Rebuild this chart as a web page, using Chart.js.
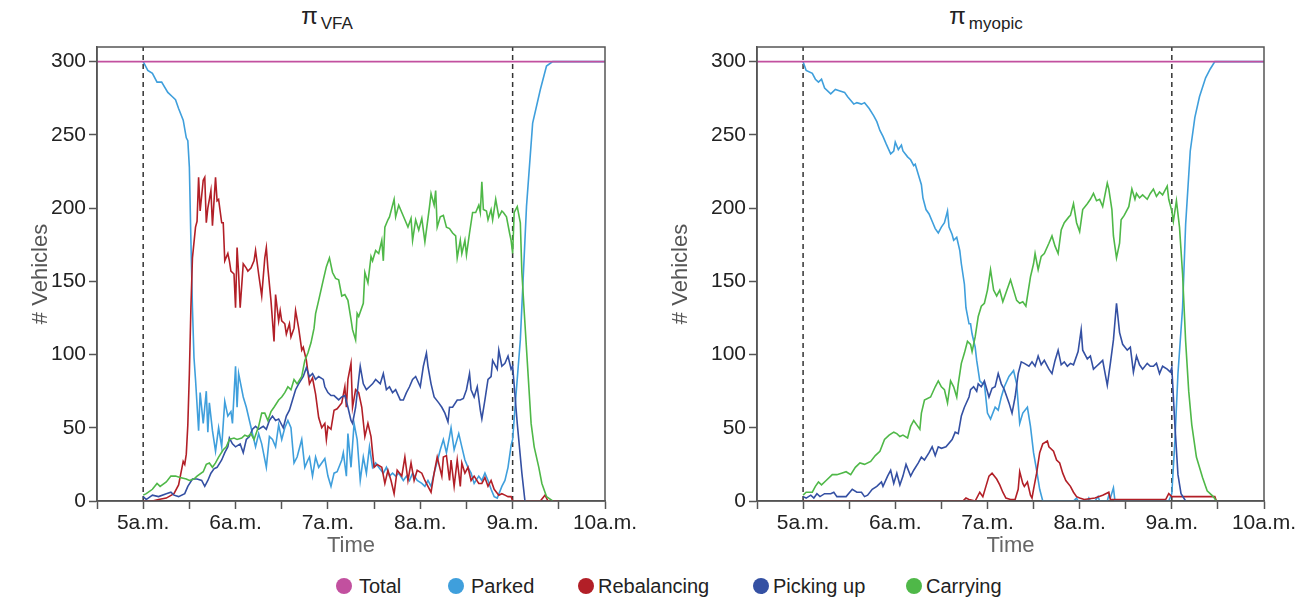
<!DOCTYPE html>
<html lang="en">
<head>
<meta charset="UTF-8">
<title>Fleet state: VFA vs myopic</title>
<script src="https://cdn.jsdelivr.net/npm/chart.js"></script>
<style>
  body { margin: 0; background: #fff; width: 1300px; height: 601px; overflow: hidden; position: relative;
         font-family: "Liberation Sans", Arial, sans-serif; }
  canvas { position: absolute; top: 0; }
  .ttl { position: absolute; top: 2px; width: 240px; text-align: center; color: #222; }
  .ttl .pi { font-size: 24px; }
  .ttl .sub { font-size: 17px; position: relative; top: 5px; margin-left: 3px; }
  .lg { position: absolute; top: 574px; font-size: 20px; color: #222; line-height: 24px; }
  .lg i { position: absolute; top: 4px; width: 16px; height: 16px; border-radius: 50%; }
</style>
</head>
<body>
<div class="ttl" style="left:207px"><span class="pi">π</span><span class="sub">VFA</span></div>
<div class="ttl" style="left:866px"><span class="pi">π</span><span class="sub">myopic</span></div>
<canvas id="vfa" width="650" height="560" style="left:0"></canvas>
<canvas id="myopic" width="650" height="560" style="left:650px"></canvas>
<div id="legend"></div>

<script>
// minutes after 5a.m. -> vehicles
const hourLabels = ['5a.m.', '6a.m.', '7a.m.', '8a.m.', '9a.m.', '10a.m.'];
const yTicks = [0, 50, 100, 150, 200, 250, 300];
const policyWindow = [0, 240]; // dashed lines at 5a.m. and 9a.m.
const seriesNames = ['Total', 'Parked', 'Rebalancing', 'Picking up', 'Carrying'];
const seriesColors = ['#c2509f', '#3f9fdc', '#b21f27', '#3450a3', '#4fb848'];

const total = [[-30, 300], [300, 300]];

// pi VFA
const vfaParked = [[0,300],[3,294],[6,292],[9,286],[12,286],[16,279],[19,276],[21,274],[23,268],[26,260],[28,248],[29,246],[30,228],[31,178],[32,132],[33,98],[34,83],[36,48],[37,74],[39,53],[41,75],[42,47],[43,67],[45,48],[47,34],[49,50],[51,37],[53,68],[55,58],[57,61],[58,53],[60,92],[61,64],[62,87],[65,71],[67,64],[69,55],[71,46],[73,37],[75,46],[77,39],[80,23],[82,44],[84,42],[86,37],[88,52],[90,42],[92,50],[94,55],[96,50],[98,26],[100,30],[103,42],[105,23],[107,28],[108,30],[110,17],[112,30],[114,23],[118,29],[120,17],[122,10],[124,19],[126,20],[129,28],[130,33],[132,17],[133,46],[135,23],[137,53],[139,42],[141,14],[143,30],[145,19],[147,37],[149,23],[151,26],[153,23],[156,19],[158,23],[160,17],[162,19],[164,17],[166,19],[169,14],[171,17],[173,14],[175,19],[178,14],[181,12],[183,10],[185,14],[187,10],[189,19],[193,35],[195,42],[197,33],[199,44],[200,50],[202,35],[205,46],[207,37],[209,28],[211,23],[213,19],[215,12],[218,17],[220,14],[222,19],[224,14],[226,8],[228,3],[230,2],[233,10],[235,14],[237,23],[239,38],[240,42],[242,70],[245,110],[249,201],[253,258],[258,281],[262,297],[266,300],[300,300]];
const vfaRebal = [[0,0],[6,0],[10,1],[15,2],[20,5],[23,11],[26,27],[27,25],[28,32],[29,52],[30,87],[31,132],[32,166],[34,187],[35,191],[36,221],[37,198],[39,219],[40,221],[41,190],[42,200],[44,212],[45,188],[47,221],[48,205],[49,206],[51,190],[52,190],[53,164],[55,169],[56,164],[57,157],[59,155],[60,132],[61,173],[62,155],[63,132],[65,162],[67,159],[68,157],[70,159],[72,164],[73,171],[75,155],[77,140],[79,166],[80,173],[81,159],[83,137],[84,123],[85,109],[86,141],[88,123],[89,130],[90,123],[92,121],[93,114],[95,121],[96,112],[98,118],[99,130],[101,118],[103,103],[104,105],[106,96],[108,80],[110,84],[112,73],[114,57],[116,50],[118,53],[119,42],[120,51],[122,49],[124,62],[126,63],[129,67],[131,78],[132,64],[133,83],[135,94],[136,64],[138,76],[140,74],[142,64],[144,44],[146,53],[148,44],[149,33],[150,23],[152,25],[155,23],[157,12],[159,21],[161,14],[163,5],[165,21],[168,17],[170,30],[172,14],[174,26],[176,14],[178,21],[181,19],[183,14],[185,10],[187,6],[189,19],[191,30],[194,17],[195,30],[197,31],[199,14],[200,28],[202,10],[204,28],[206,10],[207,26],[209,19],[211,23],[213,14],[215,17],[218,12],[220,12],[222,16],[224,10],[226,14],[228,8],[231,4],[233,5],[235,4],[237,3],[239,3],[240,0],[258,0],[261,4],[263,0],[270,0]];
const vfaPick = [[0,3],[2,1],[6,4],[10,3],[15,5],[18,6],[20,4],[23,3],[27,5],[29,10],[32,15],[35,15],[38,14],[40,10],[42,14],[44,19],[46,22],[48,23],[51,28],[53,33],[55,37],[56,43],[58,39],[60,37],[63,39],[65,33],[67,42],[69,44],[71,49],[73,51],[75,49],[78,51],[80,49],[82,55],[84,58],[86,55],[88,56],[91,50],[93,58],[95,62],[97,69],[99,76],[101,80],[104,85],[106,91],[108,85],[110,87],[112,83],[114,85],[117,83],[118,78],[120,74],[122,72],[124,72],[127,69],[129,71],[131,72],[133,64],[135,55],[136,53],[138,64],[140,83],[141,92],[143,80],[145,76],[147,78],[149,80],[151,83],[154,80],[156,87],[158,76],[160,78],[162,74],[164,76],[167,69],[169,69],[171,74],[173,78],[175,83],[177,85],[180,78],[182,92],[184,101],[185,92],[187,80],[189,71],[192,67],[194,64],[196,60],[198,54],[199,64],[201,64],[204,69],[206,69],[208,70],[210,76],[212,87],[213,76],[215,71],[217,78],[219,62],[220,56],[222,69],[224,83],[226,85],[227,96],[230,90],[231,103],[233,92],[235,94],[237,99],[239,90],[240,92],[243,53],[246,19],[248,0]];
const vfaCarry = [[0,4],[2,5],[6,8],[9,12],[11,10],[15,13],[18,17],[21,17],[24,16],[28,15],[30,14],[33,15],[35,17],[39,20],[41,25],[43,26],[45,23],[47,26],[49,30],[52,35],[54,37],[56,42],[59,43],[61,42],[64,43],[66,45],[68,44],[70,46],[72,42],[75,51],[77,60],[79,60],[81,55],[83,61],[85,64],[88,69],[90,71],[92,74],[94,78],[96,76],[98,83],[100,80],[103,85],[105,96],[107,101],[109,108],[111,118],[112,128],[114,137],[117,151],[119,160],[121,166],[123,156],[125,152],[127,151],[129,140],[131,141],[133,137],[135,124],[136,117],[138,110],[139,128],[140,126],[143,135],[144,156],[146,149],[148,167],[149,164],[151,171],[153,169],[155,178],[156,164],[157,187],[159,192],[160,194],[163,206],[164,194],[166,202],[168,197],[170,192],[172,187],[174,193],[175,178],[177,192],[179,185],[181,193],[183,177],[184,185],[186,201],[187,210],[189,202],[190,212],[191,187],[193,194],[195,195],[197,187],[199,186],[201,183],[203,181],[204,166],[206,178],[207,169],[209,178],[210,168],[212,183],[214,197],[216,197],[218,202],[219,197],[220,218],[221,199],[223,198],[224,192],[226,199],[227,192],[229,206],[231,194],[233,198],[234,197],[236,194],[238,183],[239,178],[240,169],[241,197],[243,201],[245,190],[246,156],[248,121],[250,87],[252,53],[254,37],[257,23],[259,12],[262,3],[266,0]];

// pi myopic
const myoParked = [[0,300],[2,294],[6,292],[8,288],[10,286],[12,288],[14,282],[18,278],[21,281],[24,280],[27,279],[29,276],[33,271],[35,272],[38,271],[40,272],[43,268],[46,263],[48,259],[50,253],[52,249],[54,244],[57,237],[59,239],[60,245],[62,240],[64,243],[65,239],[68,235],[70,233],[72,229],[73,230],[75,223],[77,216],[78,207],[80,199],[82,196],[84,191],[86,186],[88,183],[90,187],[92,190],[94,198],[95,187],[97,182],[98,178],[100,180],[102,171],[103,162],[105,148],[106,132],[108,121],[109,121],[110,114],[112,105],[113,96],[115,82],[117,80],[118,80],[120,60],[122,56],[125,64],[127,62],[129,71],[131,78],[134,85],[137,89],[139,80],[141,53],[143,60],[146,64],[148,51],[150,33],[152,21],[154,8],[156,0],[176,0],[178,2],[179,0],[185,0],[186,2],[187,0],[190,0],[192,3],[193,0],[198,0],[199,4],[200,2],[202,9],[203,0],[238,0],[240,5],[242,41],[244,87],[247,132],[249,189],[252,239],[255,262],[258,276],[262,289],[265,295],[268,300],[300,300]];
const myoRebal = [[0,0],[104,0],[106,2],[108,1],[112,0],[115,6],[117,3],[119,10],[121,17],[123,19],[126,15],[128,11],[130,6],[132,2],[135,1],[138,1],[140,8],[141,20],[143,12],[144,10],[146,13],[148,4],[149,2],[150,8],[152,19],[154,33],[156,39],[159,41],[160,37],[163,34],[165,28],[167,26],[169,19],[171,14],[174,10],[176,6],[178,3],[180,2],[183,1],[190,2],[195,4],[199,6],[200,1],[236,1],[238,5],[240,3],[268,3],[269,0]];
const myoPick = [[0,3],[2,2],[5,4],[7,2],[9,5],[11,3],[14,5],[18,5],[20,6],[22,3],[25,3],[28,3],[32,8],[35,6],[38,6],[40,3],[42,4],[45,8],[48,10],[51,13],[52,10],[55,17],[57,21],[59,12],[61,19],[63,11],[65,17],[67,25],[70,17],[72,21],[75,26],[77,30],[79,28],[82,33],[84,37],[86,31],[88,37],[90,36],[93,37],[97,42],[99,47],[101,46],[103,58],[105,64],[108,71],[109,76],[111,78],[113,75],[114,80],[116,78],[118,82],[121,71],[123,77],[125,78],[127,87],[129,80],[131,76],[134,67],[136,60],[138,71],[140,87],[142,95],[144,94],[147,92],[149,95],[151,92],[153,99],[155,93],[157,96],[160,90],[162,87],[164,96],[166,103],[168,93],[170,95],[172,92],[174,94],[176,93],[179,102],[181,117],[182,103],[185,97],[187,99],[189,90],[191,92],[193,94],[195,96],[198,79],[200,94],[202,110],[204,135],[206,115],[208,107],[211,103],[213,105],[215,88],[217,99],[219,93],[221,90],[224,94],[226,92],[228,92],[230,94],[232,87],[234,92],[237,90],[239,88],[240,91],[242,52],[244,18],[246,5],[249,0]];
const myoCarry = [[0,4],[2,6],[6,6],[8,10],[10,13],[12,11],[15,14],[19,18],[22,18],[25,19],[28,20],[31,18],[34,23],[37,26],[40,25],[44,27],[47,31],[50,34],[53,42],[56,45],[59,47],[61,46],[63,44],[65,45],[68,43],[70,51],[72,55],[74,52],[76,49],[77,60],[79,69],[83,71],[86,78],[88,82],[90,78],[92,76],[94,67],[96,82],[98,78],[100,71],[101,80],[103,94],[105,101],[107,109],[109,107],[110,102],[112,112],[114,126],[116,133],[118,135],[120,144],[122,158],[124,144],[126,140],[128,144],[130,136],[132,142],[135,151],[137,144],[139,137],[141,135],[143,136],[145,133],[148,153],[150,162],[151,169],[153,158],[155,167],[157,169],[160,176],[162,181],[164,174],[166,169],[168,185],[170,190],[173,194],[174,195],[176,203],[178,190],[180,184],[182,199],[185,203],[187,206],[189,210],[191,205],[193,206],[195,201],[198,217],[199,213],[201,199],[202,181],[204,166],[206,176],[207,192],[209,195],[212,201],[214,213],[216,206],[217,210],[219,207],[221,209],[224,206],[226,210],[228,213],[230,208],[232,211],[234,209],[237,215],[238,206],[240,198],[241,191],[243,205],[245,187],[247,155],[249,109],[251,75],[253,52],[256,30],[260,16],[263,7],[267,3],[269,0]];

const axisColor = '#555';

const framePlugin = {
  id: 'frame',
  beforeDatasetsDraw(chart) {
    const { ctx, chartArea, scales } = chart;
    ctx.save();
    ctx.strokeStyle = '#333';
    ctx.lineWidth = 1.5;
    ctx.setLineDash([5, 4]);
    policyWindow.forEach(t => {
      const x = scales.x.getPixelForValue(t);
      ctx.beginPath();
      ctx.moveTo(x, chartArea.bottom);
      ctx.lineTo(x, chartArea.top);
      ctx.stroke();
    });
    ctx.restore();
  },
  afterDraw(chart) {
    const { ctx, chartArea } = chart;
    ctx.save();
    ctx.strokeStyle = axisColor;
    ctx.lineWidth = 1.5;
    ctx.strokeRect(chartArea.left, chartArea.top, chartArea.right - chartArea.left, chartArea.bottom - chartArea.top);
    ctx.restore();
  }
};

function toXY(rows) {
  return rows.map(r => ({ x: r[0], y: r[1] }));
}

function buildChart(id, series, padLeft, yWidth, padRight) {
  const ctx = document.getElementById(id).getContext('2d');
  return new Chart(ctx, {
    type: 'line',
    data: {
      datasets: series.map((s, i) => ({
        label: seriesNames[i],
        data: toXY(s),
        borderColor: seriesColors[i],
        borderWidth: 1.6,
        pointRadius: 0,
        tension: 0,
        fill: false,
        order: i === 0 ? 0 : 5 - i
      }))
    },
    options: {
      responsive: false,
      animation: false,
      layout: { padding: { left: padLeft, right: padRight, top: 47, bottom: 0 } },
      plugins: { legend: { display: false }, tooltip: { enabled: false } },
      scales: {
        x: {
          type: 'linear', min: -30, max: 300,
          afterFit: s => { s.height = 59; },
          ticks: {
            stepSize: 30, autoSkip: false, maxRotation: 0, padding: 2,
            font: { size: 21, family: '"Liberation Sans", Arial' }, color: '#222',
            callback: v => (v >= 0 && v % 60 === 0) ? hourLabels[v / 60] : ''
          },
          grid: { drawOnChartArea: false, tickLength: 8, tickColor: axisColor, tickWidth: 1.5 },
          border: { color: axisColor, width: 1.5 },
          title: { display: true, text: 'Time', color: '#666', padding: { top: 0, bottom: 1 },
                   font: { size: 22, family: '"Liberation Sans", Arial' } }
        },
        y: {
          min: 0, max: 310,
          afterFit: s => { s.width = yWidth; },
          afterBuildTicks: s => { s.ticks = yTicks.map(v => ({ value: v })); },
          ticks: { padding: 3, color: '#222',
                   font: { size: 21, family: '"Liberation Sans", Arial' } },
          grid: { drawOnChartArea: false, tickLength: 8, tickColor: axisColor, tickWidth: 1.5 },
          border: { color: axisColor, width: 1.5 },
          title: { display: true, text: '# Vehicles', color: '#555', padding: 4,
                   font: { size: 22, family: '"Liberation Sans", Arial' } }
        }
      }
    },
    plugins: [framePlugin]
  });
}

buildChart('vfa', [total, vfaParked, vfaRebal, vfaPick, vfaCarry], 24, 73, 45);
buildChart('myopic', [total, myoParked, myoRebal, myoPick, myoCarry], 14, 93, 36);

// shared legend under both panels
const legendLeft = [336, 448, 578, 753, 906];
const legend = document.getElementById('legend');
seriesNames.forEach((name, i) => {
  const item = document.createElement('div');
  item.className = 'lg';
  item.style.left = legendLeft[i] + 'px';
  item.style.paddingLeft = (i < 2 ? 23 : 20) + 'px';
  item.innerHTML = '<i style="left:0;background:' + seriesColors[i] + '"></i>' + name;
  legend.appendChild(item);
});
</script>
</body>
</html>
